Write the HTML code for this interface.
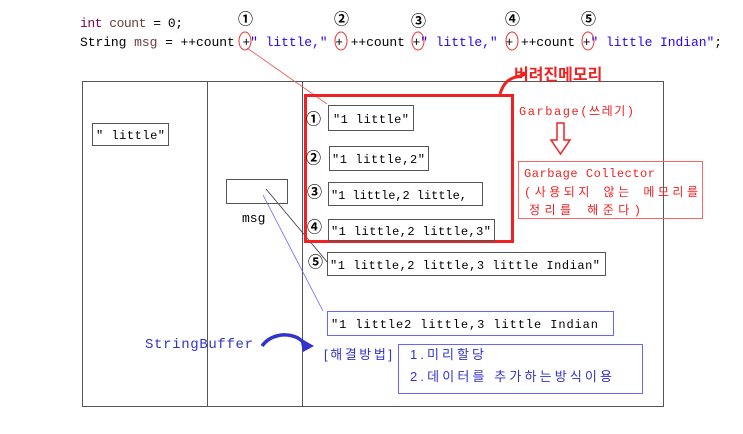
<!DOCTYPE html>
<html><head><meta charset="utf-8"><style>
html,body{margin:0;padding:0;background:#fff;}
svg{display:block;}
.m{font-family:"Liberation Mono","Noto Sans CJK KR",monospace;}
.k{font-family:"Liberation Sans","Noto Sans CJK KR",sans-serif;}
</style></head><body>
<svg width="743" height="434" viewBox="0 0 743 434" xmlns="http://www.w3.org/2000/svg">
<!-- code -->
<text class="m" x="80" y="27" font-size="13" fill="#000" textLength="103" lengthAdjust="spacing"><tspan fill="#7f0055">int</tspan> <tspan fill="#6a3e3e">count</tspan> = 0;</text>
<text class="m" x="80" y="46" font-size="13" fill="#000" xml:space="preserve" textLength="642" lengthAdjust="spacing">String <tspan fill="#6a3e3e">msg</tspan> = ++count +<tspan fill="#2a00ff">" little,"</tspan> + ++count +<tspan fill="#2a00ff">" little,"</tspan> + ++count +<tspan fill="#2a00ff">" little Indian"</tspan>;</text>
<g fill="none" stroke="#e33" stroke-width="1">
<ellipse cx="245" cy="41" rx="6" ry="9"/>
<ellipse cx="341" cy="41" rx="6" ry="9"/>
<ellipse cx="418" cy="41" rx="6" ry="9"/>
<ellipse cx="512" cy="41" rx="6" ry="9"/>
<ellipse cx="588" cy="41" rx="6" ry="9"/>
</g>
<g class="k" font-size="15" fill="#000" font-weight="bold">
<text x="238" y="24">①</text><text x="334" y="24">②</text><text x="411" y="26">③</text><text x="505" y="24">④</text><text x="581" y="24">⑤</text>
</g>
<!-- frame -->
<g fill="none" stroke="#555" stroke-width="1">
<rect x="82.5" y="81.5" width="581" height="325"/>
<line x1="207.5" y1="81" x2="207.5" y2="407"/>
<line x1="302.5" y1="81" x2="302.5" y2="407"/>
</g>
<!-- leader lines -->
<line x1="247" y1="48" x2="327" y2="104" stroke="#e55" stroke-width="0.8"/>
<line x1="266" y1="189" x2="328" y2="263" stroke="#333" stroke-width="0.8"/>
<line x1="263" y1="195" x2="323" y2="311" stroke="#66f" stroke-width="0.8"/>
<!-- little box -->
<rect x="92.5" y="123.5" width="76" height="22" fill="none" stroke="#555"/>
<text class="m" x="96" y="139" font-size="12" textLength="69" lengthAdjust="spacing" xml:space="preserve">" little"</text>
<!-- msg -->
<rect x="226.5" y="179.5" width="61" height="24" fill="none" stroke="#555"/>
<text class="m" x="242" y="222" font-size="13">msg</text>
<!-- red garbage box -->
<rect x="305.5" y="95.5" width="207" height="146" fill="none" stroke="#e22" stroke-width="3"/>
<path d="M500 94 C503 84 508 78 520 76 L526 74" fill="none" stroke="#e22" stroke-width="3"/>
<text class="k" x="514" y="80" font-size="16" fill="#e22" font-weight="bold">버려진메모리</text>
<g fill="none" stroke="#555">
<rect x="328.5" y="105.5" width="85" height="25"/>
<rect x="329.5" y="146.5" width="99" height="24"/>
<rect x="328.5" y="182.5" width="154" height="23"/>
<rect x="328.5" y="219.5" width="166" height="21"/>
<rect x="327.5" y="252.5" width="278" height="23"/>
</g>
<g class="m" font-size="12" fill="#000" lengthAdjust="spacing">
<text x="333" y="123" textLength="76">"1 little"</text>
<text x="332" y="163" textLength="93">"1 little,2"</text>
<text x="331" y="199" textLength="136">"1 little,2 little,</text>
<text x="331" y="235" textLength="160">"1 little,2 little,3"</text>
<text x="330" y="269" textLength="270">"1 little,2 little,3 little Indian"</text>
</g>
<g class="k" font-size="15" fill="#000" font-weight="bold">
<text x="306" y="124">①</text><text x="306" y="163">②</text><text x="307" y="197">③</text><text x="307" y="232">④</text><text x="308" y="267">⑤</text>
</g>
<text class="m" x="519" y="115" font-size="12" fill="#e22" textLength="115" lengthAdjust="spacing">Garbage(쓰레기)</text>
<path d="M557 123 h7 v17 h6 l-9.5 14 l-9.5 -14 h6 z" fill="#fff" stroke="#e22" stroke-width="1.5"/>
<rect x="518.5" y="161.5" width="184" height="57" fill="none" stroke="#f66"/>
<g class="m" font-size="12" fill="#e22" lengthAdjust="spacing">
<text x="524" y="177" textLength="131">Garbage Collector</text>
<text x="524" y="196" textLength="174">(사용되지 않는 메모리를</text>
<text x="529" y="214" textLength="112">정리를 해준다)</text>
</g>
<!-- stringbuffer -->
<rect x="327.5" y="311.5" width="286" height="24" fill="none" stroke="#66f"/>
<text class="m" x="331" y="328" font-size="12" fill="#000" textLength="267" lengthAdjust="spacing">"1 little2 little,3 little Indian</text>
<text class="m" x="145" y="348" font-size="14" fill="#33c" textLength="108" lengthAdjust="spacing">StringBuffer</text>
<path d="M262 346 C270 335 285 332 298 338 L306 344" fill="none" stroke="#33c" stroke-width="3.5"/>
<path d="M300 338 L314 346 L303 352 Z" fill="#33c"/>
<text class="k" x="324" y="359" font-size="13" fill="#33c" textLength="68" lengthAdjust="spacing">[해결방법]</text>
<rect x="398.5" y="344.5" width="244" height="49" fill="none" stroke="#66f"/>
<g class="k" font-size="13" fill="#33c" lengthAdjust="spacing">
<text x="410" y="359" textLength="74">1.미리할당</text>
<text x="410" y="381" textLength="202">2.데이터를 추가하는방식이용</text>
</g>
</svg>
</body></html>
